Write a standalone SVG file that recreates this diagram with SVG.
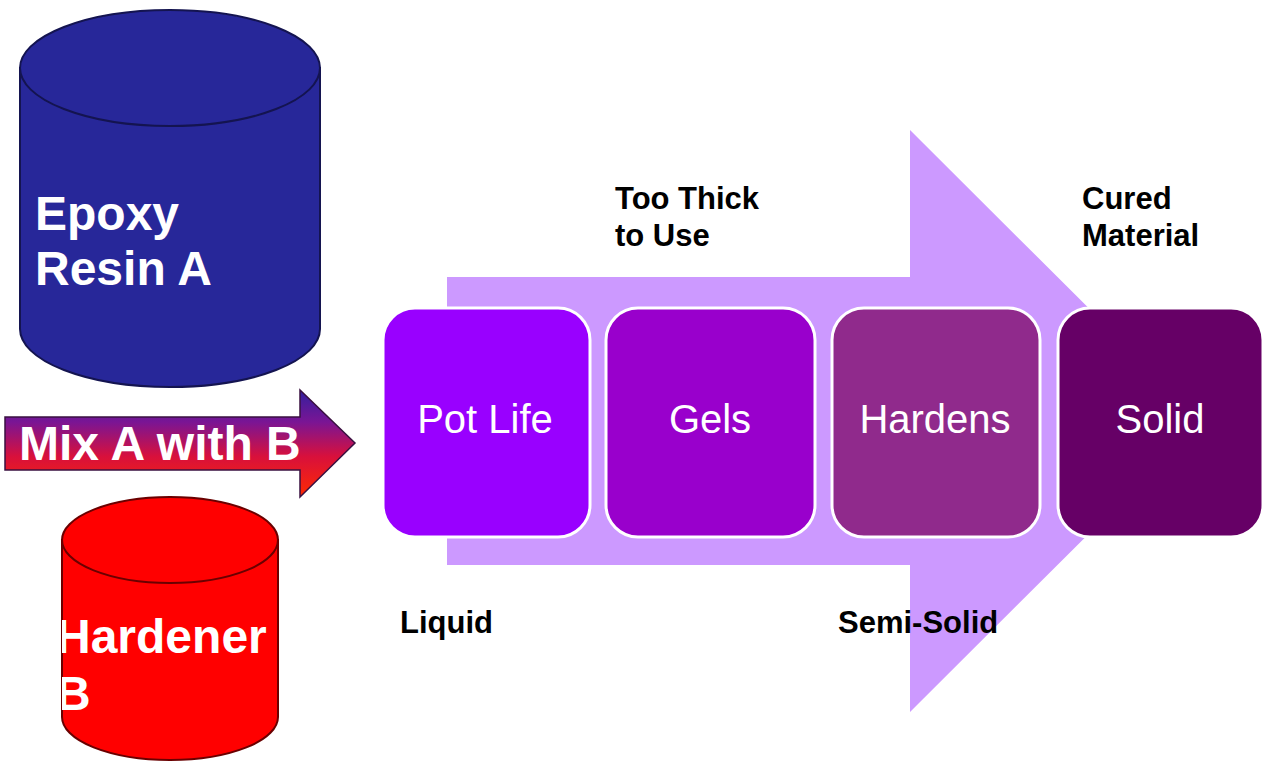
<svg xmlns="http://www.w3.org/2000/svg" width="1264" height="763" viewBox="0 0 1264 763">
<defs>
<style>
.lbl{font-family:"Liberation Sans",Arial,sans-serif;font-weight:bold;font-size:31px;fill:#000}
.cyl{font-family:"Liberation Sans",Arial,sans-serif;font-weight:bold;font-size:48px;fill:#fff}
.box{stroke:#fff;stroke-width:3}
.btxt{font-family:"Liberation Sans",Arial,sans-serif;font-size:40px;fill:#fff;text-anchor:middle}
</style>
<linearGradient id="mixg" gradientUnits="userSpaceOnUse" x1="0" y1="390" x2="0" y2="497">
<stop offset="0" stop-color="#32209e"/>
<stop offset="0.3" stop-color="#7a1594"/>
<stop offset="0.62" stop-color="#d8103c"/>
<stop offset="1" stop-color="#ff2a00"/>
</linearGradient>
<clipPath id="redclip">
<path d="M62,540 A108,43 0 0 1 278,540 L278,717 A108,43 0 0 1 62,717 Z"/>
</clipPath>
</defs>
<rect width="1264" height="763" fill="#fff"/>

<g id="connectors">
<path id="flow-arrow" d="M447,277 L910,277 L910,130 L1202,421 L910,712 L910,565 L447,565 Z" fill="#cc99ff"/>
<g id="mix-arrow">
<path d="M5,417 L300,417 L300,390 L355,443 L300,497 L300,470 L5,470 Z" fill="url(#mixg)" stroke="#3a1040" stroke-width="1.5"/>
<text class="cyl" x="19" y="460">Mix A with B</text>
</g>
</g>

<g id="epoxy-resin-a">
<path d="M20,68 L20,329 A150,58 0 0 0 320,329 L320,68 Z" fill="#272799" stroke="#141450" stroke-width="2"/>
<ellipse cx="170" cy="68" rx="150" ry="58" fill="#272799" stroke="#141450" stroke-width="2"/>
<text class="cyl" x="35" y="230">Epoxy</text>
<text class="cyl" x="35" y="285">Resin A</text>
</g>

<g id="hardener-b">
<path d="M62,540 L62,717 A108,43 0 0 0 278,717 L278,540 Z" fill="#ff0000" stroke="#6a0000" stroke-width="2"/>
<ellipse cx="170" cy="540" rx="108" ry="43" fill="#ff0000" stroke="#6a0000" stroke-width="2"/>
<g clip-path="url(#redclip)">
<text class="cyl" x="56" y="653">Hardener</text>
<text class="cyl" x="56" y="710">B</text>
</g>
</g>

<g id="pot-life">
<rect class="box" x="383" y="308" width="207" height="229" rx="32" fill="#9900ff"/>
<text class="btxt" x="485" y="433">Pot Life</text>
</g>
<g id="gels">
<rect class="box" x="606" y="308" width="209" height="229" rx="32" fill="#9900cc"/>
<text class="btxt" x="710" y="433">Gels</text>
</g>
<g id="hardens">
<rect class="box" x="832" y="308" width="208" height="229" rx="32" fill="#902a8c"/>
<text class="btxt" x="935" y="433">Hardens</text>
</g>
<g id="solid">
<rect class="box" x="1058" y="308" width="205" height="229" rx="32" fill="#660066"/>
<text class="btxt" x="1160" y="433">Solid</text>
</g>

<g id="labels">
<text class="lbl" x="615" y="209">Too Thick</text>
<text class="lbl" x="615" y="246">to Use</text>
<text class="lbl" x="1082" y="209">Cured</text>
<text class="lbl" x="1082" y="246">Material</text>
<text class="lbl" x="400" y="633">Liquid</text>
<text class="lbl" x="838" y="633">Semi-Solid</text>
</g>
</svg>
